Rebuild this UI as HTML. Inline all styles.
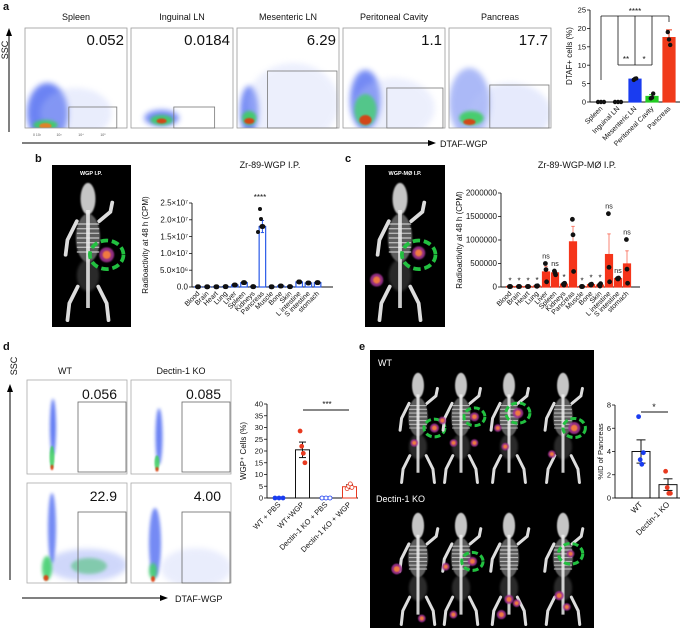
<!DOCTYPE html>
<html><head><meta charset="utf-8"><style>
html,body{margin:0;padding:0;background:#fff}
svg{display:block;font-family:"Liberation Sans",sans-serif}
</style></head><body>
<svg id="fig" width="685" height="628" viewBox="0 0 685 628" xmlns="http://www.w3.org/2000/svg">
<defs>
<filter id="blur3" x="-50%" y="-50%" width="200%" height="200%"><feGaussianBlur stdDeviation="3"/></filter>
<filter id="blur2" x="-50%" y="-50%" width="200%" height="200%"><feGaussianBlur stdDeviation="1.5"/></filter>
<filter id="blur1" x="-50%" y="-50%" width="200%" height="200%"><feGaussianBlur stdDeviation="0.8"/></filter>
</defs>
<g id="root"></g>
</svg>
<script>
// ---------- DATA ----------
const aCats=['Spleen','Inguinal LN','Mesenteric LN','Peritoneal Cavity','Pancreas'];
const aVals=[0,0,6.2,1.5,17.5];
const aErr=[0,0,0.2,0.5,2.1];
const aPts=[[0,0,0],[0,0,0],[6.0,6.3,6.4],[1.0,1.2,2.3],[19,17,15.5]];
const aColors=['#222','#222','#1a3cf0','#22cc22','#f03a1a'];
const aTicks=[0,5,10,15,20,25];
const flowTitles=['Spleen','Inguinal LN','Mesenteric LN','Peritoneal Cavity','Pancreas'];
const flowVals=['0.052','0.0184','6.29','1.1','17.7'];

const organs=['Blood','Brain','Heart','Lung','Liver','Spleen','Kidneys','Pancreas','Muscle','Bone','Skin','L intestine','S intestine','stomach'];
const bVals=[0.05e6,0.05e6,0.05e6,0.1e6,0.6e6,1.3e6,0.1e6,18e6,0.05e6,0.3e6,0.1e6,1.5e6,1.2e6,1.3e6];
const bErr=[0,0,0,0,0.2e6,0.2e6,0,1.8e6,0,0.1e6,0,0.2e6,0.3e6,0.2e6];
const bTicks=[0,5e6,1e7,1.5e7,2e7,2.5e7];
const bTickLabels=['0.0','5.0×10⁶','1.0×10⁷','1.5×10⁷','2.0×10⁷','2.5×10⁷'];
const cVals=[10000,10000,10000,20000,320000,300000,60000,960000,10000,50000,40000,690000,180000,490000];
const cErr=[0,0,0,0,120000,30000,20000,330000,0,20000,20000,440000,10000,280000];
const cPts=[[10000,10000,10000],[10000,10000,10000],[10000,10000,10000],[20000,15000,25000],[500000,370000,110000],[340000,300000,260000],[60000,40000,80000],[1440000,1110000,330000],[10000,10000,10000],[50000,40000,60000],[40000,20000,70000],[1560000,420000,110000],[180000,170000,190000],[1010000,380000,80000]];
const cSig=['*','*','*','*','ns','ns','*','','*','*','*','ns','ns','ns'];
const cTicks=[0,500000,1000000,1500000,2000000];

const dCats=['WT + PBS','WT+WGP','Dectin-1 KO + PBS','Dectin-1 KO + WGP'];
const dVals=[0,20.5,0,4.8];
const dErr=[0,3.3,0,0.8];
const dPts=[[0,0,0],[28.5,22,19,15],[0,0,0],[4,5,6,4.5]];
const dTicks=[0,5,10,15,20,25,30,35,40];
const dFlowVals=['0.056','0.085','22.9','4.00'];

const eCats=['WT','Dectin-1 KO'];
const eVals=[4.0,1.15];
const eErr=[1.0,0.5];
const ePts=[[7.0,3.3,2.9,3.9],[2.3,0.9,0.4,0.4]];
const eTicks=[0,2,4,6,8];

// ---------- HELPERS ----------
const NS='http://www.w3.org/2000/svg';
const root=document.getElementById('root');
function el(tag,attrs,parent,txt){const e=document.createElementNS(NS,tag);for(const k in attrs)e.setAttribute(k,attrs[k]);if(txt!==undefined)e.textContent=txt;(parent||root).appendChild(e);return e;}
function grp(name,parent){const g=el('g',{},parent);


return g;}
function txt(parent,x,y,s,size,anchor,extra){return el('text',Object.assign({x:x,y:y,'font-size':size,'text-anchor':anchor||'start',fill:'#111'},extra||{}),parent,s);}
function scale(d0,d1,r0,r1){return v=>r0+(v-d0)/(d1-d0)*(r1-r0);}

[['a',3,10],['b',35,162],['c',345,162],['d',3,350],['e',359,350]].forEach(p=>{const t=txt(root,p[1],p[2],p[0],11,'start',{'font-weight':'bold'});

});

// ---------- FLOW PLOT drawing ----------
function flowBlob(g,x,y,w,h,spec){
  const cp='cp'+Math.round(x)+'_'+Math.round(y);
  const c=el('clipPath',{id:cp},g);el('rect',{x:x,y:y,width:w,height:h},c);
  const b=el('g',{'clip-path':'url(#'+cp+')'},g);
  spec.forEach(s=>el('ellipse',{cx:x+s[0]*w,cy:y+s[1]*h,rx:s[2]*w,ry:s[3]*h,fill:s[4],opacity:s[5],filter:'url(#'+(s[6]||'blur3')+')'},b));
}
const flowSpecs=[
 [[0.22,0.85,0.2,0.3,'#3a5af0',0.75],[0.5,0.85,0.35,0.25,'#b8c4f8',0.3],[0.2,0.97,0.12,0.05,'#3ecf60',0.9,'blur2'],[0.2,0.98,0.06,0.03,'#f07a20',0.9,'blur1']],
 [[0.3,0.9,0.17,0.08,'#3a5af0',0.7],[0.3,0.92,0.11,0.05,'#3ecf60',0.9,'blur2'],[0.3,0.93,0.05,0.025,'#e03a10',0.9,'blur1']],
 [[0.12,0.83,0.09,0.25,'#3a5af0',0.7],[0.55,0.75,0.45,0.4,'#c2ccf8',0.3],[0.12,0.9,0.07,0.07,'#3ecf60',0.9,'blur2'],[0.12,0.93,0.05,0.03,'#e03a10',0.9,'blur1']],
 [[0.22,0.72,0.15,0.3,'#3a5af0',0.7],[0.5,0.8,0.4,0.3,'#c2ccf8',0.3],[0.22,0.82,0.11,0.16,'#45d070',0.8,'blur2'],[0.22,0.92,0.06,0.05,'#e03a10',0.9,'blur1']],
 [[0.2,0.75,0.2,0.35,'#5a76f0',0.5],[0.6,0.85,0.4,0.3,'#b8c4f8',0.35],[0.22,0.9,0.12,0.07,'#3ecf60',0.9,'blur2'],[0.2,0.94,0.06,0.03,'#e03a10',0.9,'blur1']]
];
const gateA=[[0.43,0.79,0.9,1],[0.42,0.79,0.82,1],[0.3,0.43,0.98,1],[0.43,0.6,0.98,1],[0.4,0.57,0.98,1]];
const ga=grp('flow-panel-a');
for(let i=0;i<5;i++){
  const x=25+i*106,y=28,w=102,h=100;
  const g=grp('flow-plot-'+flowTitles[i].toLowerCase().replace(/ /g,'-'),ga);
  txt(g,x+w/2,20,flowTitles[i],9,'middle');
  flowBlob(g,x,y,w,h,flowSpecs[i]);
  el('rect',{x:x,y:y,width:w,height:h,fill:'none',stroke:'#999','stroke-width':0.8},g);
  const gt=gateA[i];
  el('rect',{x:x+gt[0]*w,y:y+gt[1]*h,width:(gt[2]-gt[0])*w,height:(gt[3]-gt[1])*h,fill:'none',stroke:'#777','stroke-width':0.8},g);
  txt(g,x+w-3,y+17,flowVals[i],15,'end');
}
el('line',{x1:9,y1:132,x2:9,y2:34,stroke:'#000','stroke-width':1},ga);
el('polygon',{points:'6,36 12,36 9,28',fill:'#000'},ga);
txt(ga,13,50,'SSC',9,'middle',{transform:'rotate(-90 13 50)'}).setAttribute('dy','-5');
el('line',{x1:22,y1:143,x2:430,y2:143,stroke:'#000','stroke-width':1},ga);
el('polygon',{points:'428,140 428,146 436,143',fill:'#000'},ga);
txt(ga,440,147,'DTAF-WGP',9,'start');
['0 10²','10³','10⁴','10⁵'].forEach((s,i)=>txt(ga,37+i*22,136,s,3.5,'middle',{fill:'#555'}));

// ---------- BAR CHART helper ----------
function barChart(o){
  const g=grp(o.name);
  const ys=scale(o.ymin,o.ymax,o.y0,o.y1);
  el('line',{x1:o.ax,y1:o.y0,x2:o.ax,y2:o.y1,stroke:'#111','stroke-width':0.9},g);
  el('line',{x1:o.ax,y1:o.y0,x2:o.x1,y2:o.y0,stroke:'#111','stroke-width':0.9},g);
  o.ticks.forEach((t,i)=>{const y=ys(t);el('line',{x1:o.ax-3,y1:y,x2:o.ax,y2:y,stroke:'#111','stroke-width':0.8},g);
    txt(g,o.ax-4,y+2.7,o.tickLabels?o.tickLabels[i]:String(t),o.tfs||8,'end');});
  const ylab=txt(g,o.ylx,(o.y0+o.y1)/2,o.ylab,o.yfs||8,'middle',{transform:'rotate(-90 '+o.ylx+' '+((o.y0+o.y1)/2)+')'});
  
  
  if(o.title){const t=txt(g,o.titleX,o.titleY,o.title,9,'middle');
    
    }
  o.cats.forEach((c,i)=>{
    const x=o.xs(i),v=o.vals[i],y=ys(v),col=o.colors?o.colors[i]:o.color;
    const bg=grp('bar-'+c.toLowerCase().replace(/[^a-z0-9]+/g,'-'),g);
    if(v>0){el('rect',{x:x-o.bw/2,y:y,width:o.bw,height:o.y0-y,fill:o.fill==='none'?'#fff':col,stroke:o.stroke||col,'stroke-width':o.sw||1.2},bg);}
    const e=o.err[i];
    if(e>0){const ec=o.errColor||col;
      el('line',{x1:x,y1:ys(v+e),x2:x,y2:ys(v-e),stroke:ec,'stroke-width':1,opacity:o.errOp||1},bg);
      el('line',{x1:x-o.bw/4,y1:ys(v+e),x2:x+o.bw/4,y2:ys(v+e),stroke:ec,'stroke-width':1,opacity:o.errOp||1},bg);
      el('line',{x1:x-o.bw/4,y1:ys(v-e),x2:x+o.bw/4,y2:ys(v-e),stroke:ec,'stroke-width':1,opacity:o.errOp||1},bg);}
    if(o.pts){const p=o.pts[i];p.forEach((pv,j)=>{const off=(j-(p.length-1)/2)*(o.jit||3);
      el('circle',{cx:x+(v===0?off:off*0.4),cy:ys(pv),r:o.pr||2,fill:o.ptHollow&&o.ptHollow[i]?'#fff':(o.ptColors?o.ptColors[i]:'#111'),stroke:o.ptColors?o.ptColors[i]:'#111','stroke-width':0.8},bg);});}
    const lx=x+2,ly=o.y0+7;
    txt(bg,lx,ly,c,o.lfs||8,'end',{transform:'rotate(-45 '+lx+' '+ly+')'});
  });
  return {g:g,ys:ys};
}

const A=barChart({name:'dtaf-bar-chart',cats:aCats,vals:aVals,err:aErr,pts:aPts,colors:aColors,ptColors:['#111','#111','#111','#111','#111'],
  ax:590,x1:680,y0:102,y1:10,ymin:0,ymax:25,ticks:aTicks,xs:i=>601+i*17,bw:12,ylab:'DTAF+ cells (%)',ylx:572,jit:3,pr:1.8,lfs:7,tfs:7.5});
el('line',{x1:601,y1:16,x2:669,y2:16,stroke:'#111','stroke-width':0.8},A.g);
[[601,80],[618,65],[635,65],[652,65],[669,22]].forEach(p=>el('line',{x1:p[0],y1:16,x2:p[0],y2:p[1],stroke:'#111','stroke-width':0.8},A.g));
txt(A.g,635,14,'****',8,'middle');
el('line',{x1:618,y1:65,x2:652,y2:65,stroke:'#111','stroke-width':0.8},A.g);
txt(A.g,626,62,'**',8,'middle');txt(A.g,644,62,'*',8,'middle');

// ---------- MOUSE IMAGE ----------
function mouse(g,cx,top,h,hot,ring){
  const s=h/150;
  const m=el('g',{transform:'translate('+cx+','+top+') scale('+s+')'},g);
  el('ellipse',{cx:0,cy:18,rx:8,ry:17,fill:'#e8e8e8',opacity:0.85,filter:'url(#blur1)'},m);
  el('ellipse',{cx:0,cy:60,rx:13,ry:26,fill:'#aaa',opacity:0.55,filter:'url(#blur1)'},m);
  for(let k=0;k<7;k++)el('line',{x1:-12,y1:45+k*5,x2:12,y2:45+k*5,stroke:'#ddd','stroke-width':1.5,opacity:0.7},m);
  el('ellipse',{cx:0,cy:100,rx:12,ry:17,fill:'#555',opacity:0.5,filter:'url(#blur2)'},m);
  el('line',{x1:0,y1:30,x2:0,y2:135,stroke:'#eee','stroke-width':4,opacity:0.85},m);
  el('path',{d:'M-12,42 L-22,62 L-24,78 M12,42 L24,32 L26,22 M-11,112 L-20,130 L-22,148 M11,112 L20,130 L22,148',stroke:'#ddd','stroke-width':4,fill:'none','stroke-linecap':'round'},m);
  (hot||[]).forEach(p=>{el('circle',{cx:p[0],cy:p[1],r:p[2]||7,fill:'#a03090',opacity:0.9,filter:'url(#blur1)'},m);
    el('circle',{cx:p[0],cy:p[1],r:(p[2]||7)*0.55,fill:'#f07a40',filter:'url(#blur1)'},m);});
  if(ring)el('ellipse',{cx:ring[0],cy:ring[1],rx:ring[2],ry:ring[2]*0.85,fill:'none',stroke:'#22c040','stroke-width':4,'stroke-dasharray':'8 4'},m);
}
const bi=grp('wgp-ip-image');
el('rect',{x:52,y:165,width:79,height:162,fill:'#000'},bi);
txt(bi,91,175,'WGP I.P.',5.5,'middle',{fill:'#fff','font-weight':'bold'});
mouse(bi,88,182,140,[[20,78,8]],[20,78,18]);
const ci=grp('wgp-mo-ip-image');
el('rect',{x:365,y:165,width:80,height:162,fill:'#000'},ci);
txt(ci,405,175,'WGP-MØ I.P.',5.5,'middle',{fill:'#fff','font-weight':'bold'});
mouse(ci,400,182,140,[[20,76,7],[-25,105,7]],[20,78,18]);

barChart({name:'zr89-wgp-chart',cats:organs,vals:bVals,err:bErr,pts:bVals.map(v=>[v,v,v]),color:'#2a5ae8',fill:'none',
  ax:192,x1:333,y0:287,y1:203,ymin:0,ymax:2.5e7,ticks:bTicks,tickLabels:bTickLabels,xs:i=>198+i*9.2,bw:6.5,sw:1.2,
  ylab:'Radioactivity at 48 h (CPM)',ylx:148,title:'Zr-89-WGP I.P.',titleX:270,titleY:168,jit:1.5,pr:2,lfs:7,tfs:8});
txt(root,260,200,'****',8,'middle');
[[260,209],[261,219],[258,232]].forEach(p=>el('circle',{cx:p[0],cy:p[1],r:2,fill:'#111'},root));

const C=barChart({name:'zr89-wgp-mo-chart',cats:organs,vals:cVals,err:cErr,pts:cPts,color:'#f5351a',errColor:'#f5351a',errOp:0.6,
  ax:501,x1:640,y0:287,y1:193,ymin:0,ymax:2000000,ticks:cTicks,xs:i=>510+i*9,bw:7,
  ylab:'Radioactivity at 48 h (CPM)',ylx:462,title:'Zr-89-WGP-MØ I.P.',titleX:577,titleY:168,jit:1.5,pr:2,lfs:7,tfs:8});
cSig.forEach((s,i)=>{if(!s)return;const x=510+i*9;const top=C.ys(Math.max(...cPts[i],cVals[i]+cErr[i]));
  const t=txt(C.g,x,top-(s==='*'?3:5),s,s==='*'?8:7,'middle');
  
  });

// ---------- panel d flow ----------
const gd=grp('flow-panel-d');
txt(gd,65,374,'WT',9,'middle');txt(gd,181,374,'Dectin-1 KO',9,'middle');
const dBoxes=[[27,380,94],[131,380,94],[27,483,100],[131,483,100]];
const dSpecs=[
 [[0.26,0.5,0.03,0.3,'#3a5af0',0.8,'blur2'],[0.25,0.82,0.025,0.12,'#3ecf60',0.85,'blur1'],[0.25,0.93,0.015,0.03,'#e03a10',0.9,'blur1']],
 [[0.28,0.6,0.035,0.3,'#3a5af0',0.75,'blur2'],[0.26,0.88,0.025,0.08,'#3ecf60',0.85,'blur1'],[0.26,0.95,0.015,0.025,'#e03a10',0.9,'blur1']],
 [[0.6,0.82,0.4,0.16,'#8a9ef4',0.4],[0.25,0.45,0.04,0.35,'#3a5af0',0.7,'blur2'],[0.62,0.83,0.18,0.08,'#45c070',0.55,'blur2'],[0.2,0.85,0.05,0.12,'#45d070',0.9,'blur2'],[0.19,0.95,0.025,0.03,'#e03a10',0.9,'blur1']],
 [[0.24,0.6,0.06,0.35,'#3a5af0',0.7,'blur2'],[0.65,0.85,0.35,0.2,'#c2ccf8',0.35],[0.22,0.88,0.04,0.08,'#45d070',0.9,'blur2'],[0.22,0.96,0.02,0.03,'#e03a10',0.9,'blur1']]
];
dBoxes.forEach((b,i)=>{const g=grp('flow-plot-d-'+(i+1),gd);const x=b[0],y=b[1],w=100,h=b[2];
  flowBlob(g,x,y,w,h,dSpecs[i]);
  el('rect',{x:x,y:y,width:w,height:h,fill:'none',stroke:'#aaa','stroke-width':0.8},g);
  el('rect',{x:x+51,y:y+(i<2?22:29),width:48,height:h-(i<2?24:29),fill:'none',stroke:'#666','stroke-width':0.8},g);
  txt(g,x+w-10,y+(i<2?19:18),dFlowVals[i],14,'end');});
el('line',{x1:10,y1:580,x2:10,y2:390,stroke:'#000','stroke-width':1},gd);
el('polygon',{points:'7,392 13,392 10,384',fill:'#000'},gd);
txt(gd,17,366,'SSC',9,'middle',{transform:'rotate(-90 17 366)'});
el('line',{x1:22,y1:598,x2:162,y2:598,stroke:'#000','stroke-width':1},gd);
el('polygon',{points:'160,595 160,601 168,598',fill:'#000'},gd);
txt(gd,175,602,'DTAF-WGP',9,'start');

const D=barChart({name:'wgp-cells-chart',cats:dCats,vals:dVals,err:dErr,pts:dPts,colors:['#111','#111','#111','#e83a20'],fill:'none',
  ptColors:['#1a3cf0','#e83a20','#1a3cf0','#e83a20'],ptHollow:[false,false,true,true],
  ax:267,x1:358,y0:498,y1:404,ymin:0,ymax:40,ticks:dTicks,xs:i=>279+i*23.5,bw:14,sw:1,errColor:'#111',
  ylab:'WGP⁺ Cells (%)',ylx:246,jit:4,pr:2,lfs:7.5,tfs:7.5});
el('line',{x1:303,y1:410,x2:349,y2:410,stroke:'#111','stroke-width':0.9},D.g);
txt(D.g,327,407,'***',8,'middle');

// ---------- panel e ----------
const ge=grp('pet-ct-images-e');
el('rect',{x:370,y:350,width:224,height:278,fill:'#000'},ge);
txt(ge,378,366,'WT',9,'start',{fill:'#fff'});
txt(ge,376,502,'Dectin-1 KO',9,'start',{fill:'#fff'});
const wx=[418,461,509,563];
mouse(ge,wx[0],372,112,[[22,75,6],[-5,95,5]],[22,75,14]);
mouse(ge,wx[1],372,112,[[18,60,6],[-25,65,5],[-10,95,5],[18,95,5]],[18,60,14]);
mouse(ge,wx[2],372,112,[[12,55,7],[-15,75,5],[-5,100,5]],[12,55,16]);
mouse(ge,wx[3],372,112,[[15,75,8],[-15,110,5]],[15,75,15]);
mouse(ge,wx[0],512,114,[[-28,75,7],[5,140,5]],null);
mouse(ge,wx[1],512,114,[[15,65,6],[-20,72,5],[-10,135,5]],[15,65,14]);
mouse(ge,wx[2],512,114,[[0,115,6],[-10,135,6],[10,120,5]],null);
mouse(ge,wx[3],512,114,[[10,55,5],[-5,110,6],[5,125,5]],[10,55,16]);

const E=barChart({name:'pancreas-id-chart',cats:eCats,vals:eVals,err:eErr,pts:ePts,colors:['#111','#111'],fill:'none',
  ptColors:['#1a3cf0','#e83a20'],ax:615,x1:680,y0:498,y1:405,ymin:0,ymax:8,ticks:eTicks,xs:i=>641+i*27,bw:18,sw:1,errColor:'#111',
  ylab:'%ID of Pancreas',ylx:603,yfs:7.5,jit:4,pr:2,lfs:8,tfs:7.5});
el('line',{x1:641,y1:412,x2:668,y2:412,stroke:'#111','stroke-width':0.9},E.g);
txt(E.g,654,410,'*',9,'middle');
</script>
</body></html>
